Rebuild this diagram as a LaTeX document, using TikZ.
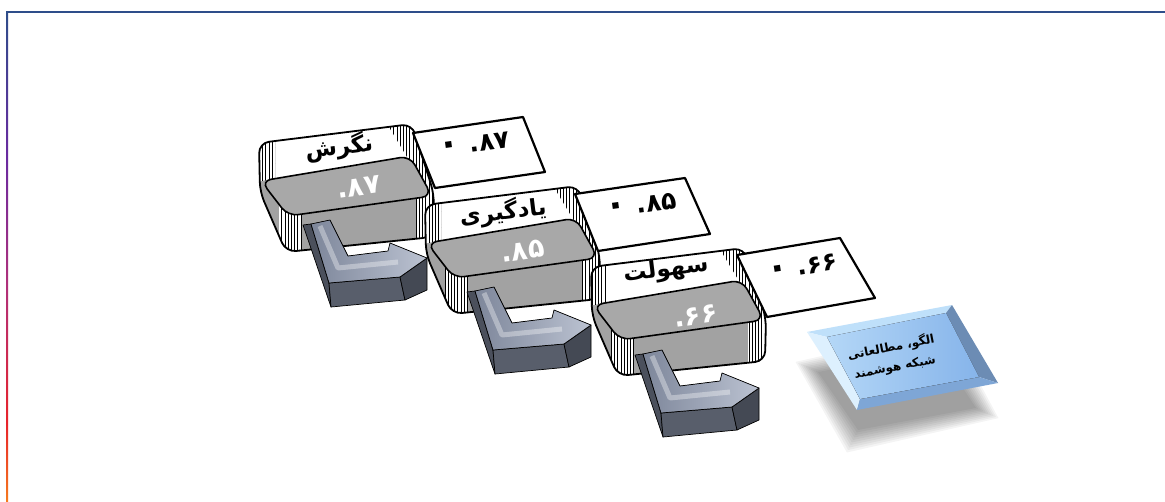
\documentclass[tikz,border=0pt]{standalone}
\usepackage{fontspec}
\usetikzlibrary{patterns.meta}
\newfontfamily\fa[Script=Arabic]{DejaVu Sans}
\TeXXeTstate=1

\definecolor{framebl}{HTML}{2E4D8A}
\definecolor{barpurple}{HTML}{6A2AA0}
\definecolor{barmag}{HTML}{B0307A}
\definecolor{barred}{HTML}{E8232A}
\definecolor{barorange}{HTML}{F57A1E}
\definecolor{topgray}{HTML}{A8A8A8}
\definecolor{frontgray}{HTML}{A2A2A2}
\definecolor{arrside}{HTML}{4B505C}
\definecolor{arrfront}{HTML}{585E6B}
\definecolor{arrhead}{HTML}{444954}
\definecolor{arrlight}{HTML}{BCC3D2}
\definecolor{arrdark}{HTML}{7D869A}
\definecolor{bvtop}{HTML}{BFE0FA}
\definecolor{bvleft}{HTML}{DDF0FE}
\definecolor{bvright}{HTML}{6C8CB4}
\definecolor{bvbottom}{HTML}{7EA6D6}
\definecolor{bfaceL}{HTML}{B4D7F7}
\definecolor{bfaceR}{HTML}{86B4EA}

\pgfdeclareverticalshading{leftbar}{100bp}{color(0bp)=(barorange); color(25bp)=(barorange); color(33bp)=(barred); color(47bp)=(barmag); color(60bp)=(barpurple); color(75bp)=(framebl); color(100bp)=(framebl)}

\newcommand\bigzero{{\fontsize{36}{24}\selectfont ۰}}

\tikzset{
  hatch/.style={pattern={Lines[angle=90,distance=3.2pt,line width=0.6pt]}},
  % rounded 3D step block: back wall, curved corners, grey top face
  stepblock/.pic={
    \fill[frontgray, rounded corners=10pt] (260,192) -- (259,143) -- (412,124) -- (434,194) -- (433,237) -- (286,252) -- cycle;
    \begin{scope}
      \clip[rounded corners=10pt] (260,192) -- (259,143) -- (412,124) -- (434,194) -- (433,237) -- (286,252) -- cycle;
      \fill[white] (250,100) -- (450,100) -- (450,196) -- (428,196) -- (407,157) -- (261,181) -- (250,183) -- cycle;
      \fill[white] (279,200) -- (302,200) -- (302,260) -- (279,260) -- cycle;
      \fill[white] (416,188) -- (440,188) -- (440,245) -- (416,245) -- cycle;
      \fill[hatch] (250,120) -- (275,120) -- (275,179) -- (250,183) -- cycle;
      \fill[hatch] (387,120) -- (450,120) -- (450,196) -- (428,196) -- (407,157) -- (389,127) -- cycle;
      \fill[hatch] (279,200) -- (302,200) -- (302,260) -- (279,260) -- cycle;
      \fill[hatch] (416,188) -- (440,188) -- (440,245) -- (416,245) -- cycle;
    \end{scope}
    \filldraw[fill=topgray, draw=black, line width=1.6pt, rounded corners=10pt]
      (261,181) -- (410,156) -- (432,196) -- (288,216) -- cycle;
    \draw[line width=1.8pt, rounded corners=10pt] (260,192) -- (259,143) -- (412,124) -- (434,194) -- (433,237) -- (286,252) -- cycle;
  },
  % bent arrow with extruded sides
  bentarrow/.pic={
    \begin{scope}[draw=black, line width=0.7pt, line join=round]
      \filldraw[fill=arrside] (303,225) -- (311,224) -- (329,283) -- (331,307) -- cycle;
      \filldraw[fill=arrfront] (329,283) -- (400,277) -- (405,300) -- (331,307) -- cycle;
      \filldraw[fill=arrhead] (400,277) -- (427,258) -- (427,290) -- (405,300) -- cycle;
      \filldraw[left color=arrdark, right color=arrlight]
        (311,224) -- (330,220) -- (348,256) -- (388,251) -- (390,243) -- (427,258) -- (400,277) -- (329,283) -- cycle;
    \end{scope}
    \draw[white, opacity=0.35, line width=5pt, line join=round] (320,226) -- (338,268) -- (398,262);
  },
  boxtxt/.style={font=\fa\bfseries\fontsize{25}{25}\selectfont},
  titletxt/.style={font=\fa\bfseries\fontsize{23}{23}\selectfont},
  numtxt/.style={font=\fa\bfseries\fontsize{27}{27}\selectfont, text=white},
  valbox/.style={fill=white, draw=black, line width=2.2pt, line join=round}
}

\begin{document}
\begin{tikzpicture}[x=1pt, y=-1pt]
\useasboundingbox (0,0) rectangle (1165,501);
\fill[white] (0,0) rectangle (1165,501);

% frame
\shade[shading=leftbar] (6,12) rectangle (8,501);
\draw[framebl, line width=1.8pt] (6,12) -- (1165,12);

% step 1
\pic at (0,0) {stepblock};
\node[titletxt, rotate=7] (t1) at (339,147) {\beginR نگرش\endR};
\node[numtxt, rotate=8] (n1) at (359,187) {۸۷.};
\pic at (0,0) {bentarrow};
\filldraw[valbox] (413,133) -- (523,117) -- (545,172) -- (435,188) -- cycle;
\node[boxtxt, rotate=8] (v1) at (474,144) {\bigzero\hspace{9pt}۸۷.};

% step 2
\pic at (166,62) {stepblock};
\node[titletxt, rotate=7] (t2) at (503,212) {\beginR یادگیری\endR};
\node[numtxt, rotate=8] (n2) at (523,251) {۸۵.};
\pic at (164,67) {bentarrow};
\filldraw[valbox] (575,194) -- (685,178) -- (710,234) -- (598,251) -- cycle;
\node[boxtxt, rotate=8] (v2) at (641,205) {\bigzero\hspace{9pt}۸۵.};

% step 3
\pic at (332,124) {stepblock};
\node[titletxt, rotate=7] (t3) at (666,270) {\beginR سهولت\endR};
\node[numtxt, rotate=8] (n3) at (696,316) {۶۶.};
\pic at (332,130) {bentarrow};
\filldraw[valbox] (737,255) -- (840,238) -- (875,298) -- (767,317) -- cycle;
\node[boxtxt, rotate=9] (v3) at (802,267) {\bigzero\hspace{9pt}۶۶.};

% soft shadow under the result box: stacked, widening translucent layers
\foreach \r in {0,2.5,...,22.5} {
  \pgfmathsetmacro\sx{1+2*\r/158}
  \pgfmathsetmacro\sy{1+2*\r/80}
  \fill[black, opacity=0.045, shift={(897,390)}, xscale=\sx, yscale=\sy]
    (-79,-18) -- (41,-40) -- (79,18) -- (-39,40) -- cycle;
}

% bevelled result box
\fill[bvtop] (807,332) -- (952,305) -- (946,313) -- (827,337) -- cycle;
\fill[bvleft] (807,332) -- (827,337) -- (860,399) -- (857,410) -- cycle;
\fill[bvright] (952,305) -- (998,383) -- (979,377) -- (946,313) -- cycle;
\fill[bvbottom] (857,410) -- (860,399) -- (979,377) -- (998,383) -- cycle;
\fill[left color=bfaceL, right color=bfaceR] (827,337) -- (946,313) -- (979,377) -- (860,399) -- cycle;
\node[font=\fa\bfseries\fontsize{12}{20}\selectfont, rotate=11, align=center] (res) at (893,357)
  {\beginR الگو، مطالعاتی\endR\\ \beginR شبکه هوشمند\endR};
\end{tikzpicture}
\end{document}
